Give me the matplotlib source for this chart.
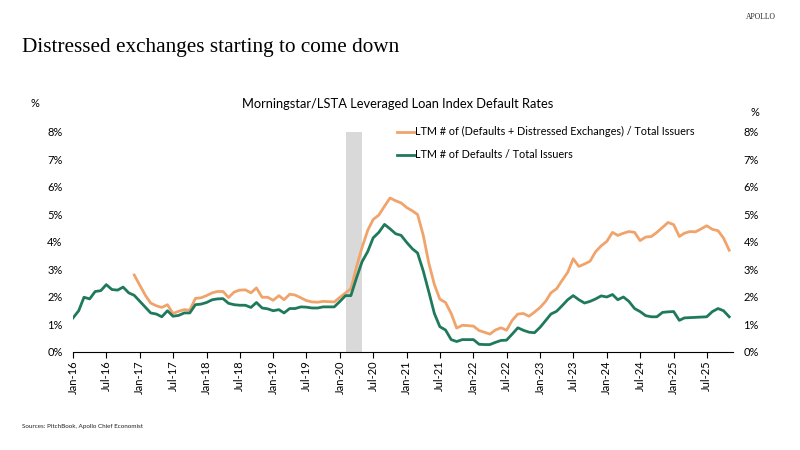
import numpy as np
import pandas as pd
import matplotlib
matplotlib.use("Agg")
import matplotlib.pyplot as plt
import matplotlib.dates as mdates

# ---- data (monthly, Jan-16 onward) ----
dates = pd.date_range("2016-01-01", periods=119, freq="MS")

defaults = [
    1.24, 1.50, 1.99, 1.93, 2.20, 2.23, 2.45, 2.27, 2.25, 2.36, 2.15, 2.06,
    1.84, 1.62, 1.42, 1.38, 1.28, 1.50, 1.30, 1.33, 1.42, 1.42, 1.72, 1.74,
    1.80, 1.90, 1.93, 1.94, 1.77, 1.72, 1.70, 1.70, 1.62, 1.80, 1.60, 1.57,
    1.50, 1.54, 1.42, 1.58, 1.58, 1.64, 1.63, 1.60, 1.60, 1.64, 1.64, 1.64,
    1.84, 2.05, 2.05, 2.70, 3.28, 3.65, 4.15, 4.35, 4.64, 4.48, 4.30, 4.24,
    3.98, 3.75, 3.60, 2.95, 2.20, 1.40, 0.92, 0.80, 0.45, 0.38, 0.45, 0.45,
    0.45, 0.28, 0.27, 0.27, 0.35, 0.42, 0.43, 0.65, 0.88, 0.79, 0.72, 0.70,
    0.90, 1.15, 1.38, 1.48, 1.68, 1.90, 2.05, 1.90, 1.78, 1.84, 1.93, 2.04,
    2.00, 2.09, 1.90, 2.00, 1.84, 1.58, 1.47, 1.32, 1.28, 1.28, 1.44, 1.46,
    1.47, 1.15, 1.24, 1.25, 1.26, 1.27, 1.28, 1.47, 1.58, 1.50, 1.28,
]

defaults_dist = [np.nan] * 11 + [
    2.80,
    2.42, 2.05, 1.78, 1.68, 1.62, 1.72, 1.40, 1.48, 1.54, 1.52, 1.95, 1.97,
    2.05, 2.15, 2.20, 2.20, 1.98, 2.18, 2.25, 2.26, 2.15, 2.33, 1.99, 1.99,
    1.88, 2.05, 1.90, 2.10, 2.07, 1.97, 1.87, 1.82, 1.81, 1.84, 1.83, 1.82,
    1.99, 2.15, 2.30, 3.10, 3.80, 4.42, 4.82, 4.98, 5.30, 5.60, 5.50, 5.42,
    5.25, 5.13, 5.00, 4.25, 3.25, 2.45, 1.92, 1.80, 1.40, 0.87, 0.97, 0.96,
    0.94, 0.78, 0.72, 0.65, 0.80, 0.88, 0.79, 1.15, 1.38, 1.40, 1.30, 1.45,
    1.62, 1.85, 2.15, 2.30, 2.60, 2.90, 3.39, 3.11, 3.20, 3.30, 3.65, 3.86,
    4.02, 4.35, 4.24, 4.32, 4.38, 4.35, 4.05, 4.18, 4.20, 4.35, 4.53, 4.71,
    4.63, 4.20, 4.32, 4.38, 4.37, 4.48, 4.59, 4.46, 4.41, 4.14, 3.70,
]

recession = ("2020-02-01", "2020-05-01")
yticks = [0, 1, 2, 3, 4, 5, 6, 7, 8]
ytick_labels = [f"{v}%" for v in yticks]
xtick_dates = pd.date_range("2016-01-01", "2025-07-01", freq="6MS")
xtick_labels = [d.strftime("%b-%y") for d in xtick_dates]

label_dist = "LTM # of (Defaults + Distressed Exchanges) / Total Issuers"
label_def = "LTM # of Defaults / Total Issuers"

ORANGE = "#F0A46C"
GREEN = "#1F7A5C"
SANS = ["Lato", "DejaVu Sans"]

plt.rcParams["font.family"] = SANS

fig = plt.figure(figsize=(8, 4.5), dpi=100)
ax = fig.add_axes([0.0913, 0.2178, 0.8250, 0.4889])

ax.axvspan(pd.Timestamp(recession[0]), pd.Timestamp(recession[1]),
           color="#D9D9D9", lw=0, zorder=0)
ln1, = ax.plot(dates, defaults_dist, color=ORANGE, lw=2.0, label=label_dist,
               solid_joinstyle="round", zorder=3)
ln2, = ax.plot(dates, defaults, color=GREEN, lw=2.0, label=label_def,
               solid_joinstyle="round", zorder=3)

ax.set_ylim(0, 8)
ax.set_xlim(pd.Timestamp("2016-01-01"), pd.Timestamp("2025-11-22"))
ax.set_yticks(yticks)
ax.set_yticklabels(ytick_labels)
ax.set_xticks(xtick_dates)
ax.set_xticklabels(xtick_labels, rotation=90)

for s in ["top", "right", "left"]:
    ax.spines[s].set_visible(False)
ax.spines["bottom"].set_color("#000000")
ax.spines["bottom"].set_linewidth(0.8)
ax.tick_params(axis="x", direction="out", length=4, width=0.8, labelsize=8,
               colors="#000000", pad=2)
ax.tick_params(axis="y", length=0, labelsize=8, colors="#000000", pad=7.5,
               labelright=True, labelleft=True)

leg = ax.legend(handles=[ln1, ln2], loc="upper left",
                bbox_to_anchor=(0.484, 1.045), frameon=False, fontsize=7.8,
                handlelength=1.7, handletextpad=0.0, labelspacing=1.1,
                borderaxespad=0)

# texts
fig.text(0.0275, 0.895, "Distressed exchanges starting to come down",
         family=["Liberation Serif", "DejaVu Serif"], fontsize=15.3,
         color="#000000", va="center", ha="left")
fig.text(0.97, 0.962, "APOLLO", family=["Liberation Serif", "DejaVu Serif"],
         fontsize=5.5, color="#222222", ha="right", va="center")
fig.text(0.497, 0.768, "Morningstar/LSTA Leveraged Loan Index Default Rates",
         fontsize=9.3, ha="center", va="center", color="#000000")
fig.text(0.044, 0.770, "%", fontsize=8, ha="center", va="center")
fig.text(0.944, 0.750, "%", fontsize=8, ha="center", va="center")
fig.text(0.0275, 0.052, "Sources: PitchBook, Apollo Chief Economist",
         fontsize=4.5, ha="left", va="center", color="#222222")

fig.savefig("out.png", dpi=100, facecolor="white")
